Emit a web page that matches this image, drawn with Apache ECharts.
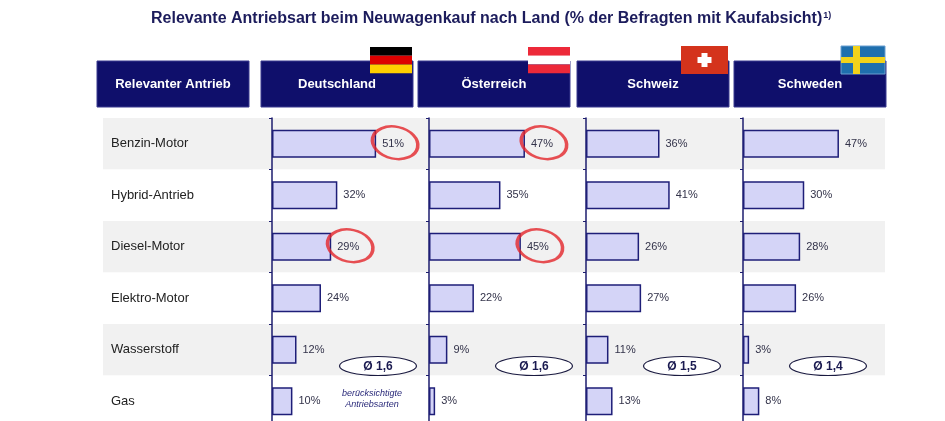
<!DOCTYPE html>
<html><head><meta charset="utf-8">
<script src="https://cdn.jsdelivr.net/npm/echarts@6/dist/echarts.min.js"></script>
<style>html,body{margin:0;padding:0;background:#fff;overflow:hidden}#c{width:945px;height:432px}</style>
</head><body><div id="c"></div>
<script>
const categories = ['Benzin-Motor','Hybrid-Antrieb','Diesel-Motor','Elektro-Motor','Wasserstoff','Gas'];
const countries = ['Deutschland','Österreich','Schweiz','Schweden'];
const deutschland = [51,32,29,24,12,10];
const oesterreich = [47,35,45,22,9,3];
const schweiz = [36,41,26,27,11,13];
const schweden = [47,30,28,26,3,8];
const avgAntriebe = ['Ø 1,6','Ø 1,6','Ø 1,5','Ø 1,4'];
const highlighted = [[0,2],[0,2],[],[]];   // indices circled in red
const headerFirst = 'Relevanter Antrieb';
const footNote = ['berücksichtigte','Antriebsarten'];

const seriesValues = [deutschland, oesterreich, schweiz, schweden];
const NAVY = '#0f0f6b';
const colLeft = [272, 429, 586, 743];
const gridTop = 118, gridH = 309, gridW = 147, xMax = 72;

const chart = echarts.init(document.getElementById('c'));
const grids = [{left:103, top:gridTop, width:782, height:gridH}];
const xAxes = [{gridIndex:0, type:'value', show:false, min:0, max:100}];
const yAxes = [{gridIndex:0, type:'category', data:categories, inverse:true,
  axisLine:{show:false}, axisTick:{show:false},
  axisLabel:{inside:true, margin:8, color:'#222', fontSize:13, fontFamily:'Liberation Sans, Arial'},
  splitArea:{show:true, areaStyle:{color:['#f1f1f1','#ffffff']}}, splitLine:{show:false}}];
const series = [{type:'bar', xAxisIndex:0, yAxisIndex:0, data:[], silent:true}];

seriesValues.forEach((vals, i) => {
  const g = i + 1;
  grids.push({left:colLeft[i], top:gridTop, width:gridW, height:gridH});
  xAxes.push({gridIndex:g, type:'value', min:0, max:xMax, show:false});
  yAxes.push({gridIndex:g, type:'category', data:categories, inverse:true,
    axisLine:{show:true, lineStyle:{color:'#1c1c6e', width:1.5}},
    axisTick:{show:true, length:3, lineStyle:{color:'#1c1c6e'}},
    axisLabel:{show:false}, splitLine:{show:false}});
  series.push({type:'bar', xAxisIndex:g, yAxisIndex:g, data:vals, barWidth:28,
    itemStyle:{color:'#d4d4f7', borderColor:'#1e1e78', borderWidth:1.5},
    label:{show:true, position:'right', distance:6, formatter:'{c}%', fontSize:11,
      color:'#33334a', fontFamily:'Liberation Sans, Arial'}});
  if (highlighted[i].length) {
    series.push({type:'scatter', xAxisIndex:g, yAxisIndex:g, z:5, silent:true,
      data: highlighted[i].map(k => [vals[k], categories[k]]),
      symbol:'circle', symbolSize:[46,32], symbolOffset:[19,-1], symbolRotate:-12,
      itemStyle:{color:'rgba(0,0,0,0)', borderColor:'#e3262b', borderWidth:3}});
  }
});

const graphics = [];
const boxX = [97, 261, 418, 577, 734];
const headers = [headerFirst].concat(countries);
headers.forEach((t, i) => {
  graphics.push({type:'rect', shape:{x:boxX[i], y:61, width:152, height:46},
    style:{fill:NAVY, stroke:'#3a3a90', lineWidth:1}});
  graphics.push({type:'text', x:boxX[i]+76, y:84, style:{text:t, fill:'#fff',
    font:'bold 13px Liberation Sans, Arial', align:'center', verticalAlign:'middle'}});
});
// flags
const fx = [370, 528, 681, 841];
['#000000','#dd0000','#ffce00'].forEach((c,k)=>graphics.push({type:'rect', shape:{x:fx[0], y:47+k*8.7, width:42, height:8.8}, style:{fill:c}}));
['#ed2939','#ffffff','#ed2939'].forEach((c,k)=>graphics.push({type:'rect', shape:{x:fx[1], y:47+k*8.7, width:42, height:8.8}, style:{fill:c}}));
graphics.push({type:'rect', shape:{x:fx[2], y:46, width:47, height:28}, style:{fill:'#d4331c'}});
graphics.push({type:'rect', shape:{x:fx[2]+20.5, y:53, width:6, height:14}, style:{fill:'#fff'}});
graphics.push({type:'rect', shape:{x:fx[2]+16.5, y:57, width:14, height:6}, style:{fill:'#fff'}});
graphics.push({type:'rect', shape:{x:fx[3], y:46, width:44, height:28}, style:{fill:'#1f6fae', stroke:'#6a9fd0', lineWidth:1}});
graphics.push({type:'rect', shape:{x:fx[3]+12, y:46, width:7, height:28}, style:{fill:'#f2d21a'}});
graphics.push({type:'rect', shape:{x:fx[3], y:57, width:44, height:6}, style:{fill:'#f2d21a'}});
// average ellipses
const ellOff = [106, 105, 96, 85];
avgAntriebe.forEach((t,i)=>{
  const cx = colLeft[i] + ellOff[i];
  graphics.push({type:'ellipse', shape:{cx:cx, cy:366, rx:38.5, ry:9.5},
    style:{fill:'#fff', stroke:'#1a1a40', lineWidth:1.2}, z:10});
  graphics.push({type:'text', x:cx, y:366.5, z:11, style:{text:t, fill:'#1a1a50',
    font:'bold 12px Liberation Sans, Arial', align:'center', verticalAlign:'middle'}});
});
footNote.forEach((t,k)=>graphics.push({type:'text', x:372, y:393+k*11, z:11,
  style:{text:t, fill:'#2a2a7a', font:'italic 9px Liberation Sans, Arial', align:'center', verticalAlign:'middle'}}));

chart.setOption({
  animation:false,
  title:{text:'{a|Relevante Antriebsart beim Neuwagenkauf nach Land (% der Befragten mit Kaufabsicht)}{s|1)}',
    left:146, top:6,
    textStyle:{rich:{a:{fontSize:16, fontWeight:'bold', color:'#1c1c5c', fontFamily:'Liberation Sans, Arial'},
      s:{fontSize:9, fontWeight:'bold', color:'#1c1c5c', verticalAlign:'top', padding:[0,0,7,1], fontFamily:'Liberation Sans, Arial'}}}},
  grid:grids, xAxis:xAxes, yAxis:yAxes, series:series, graphic:graphics
});
</script></body></html>
